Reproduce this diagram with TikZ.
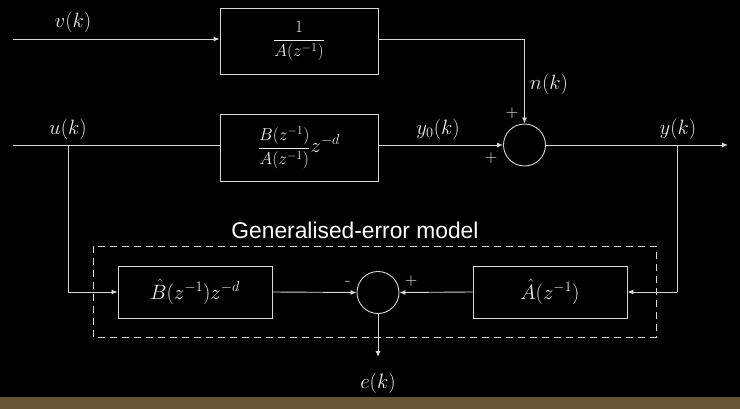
\documentclass[tikz,border=0pt]{standalone}
\usepackage{fontspec}
\usepackage{amsmath}
\setsansfont{Liberation Sans}
\usetikzlibrary{arrows.meta}
\definecolor{ln}{RGB}{215,215,215}
\definecolor{strip}{RGB}{104,84,54}
\newcommand{\midfrac}[2]{{\fontsize{17.28}{20}\selectfont$\dfrac{#1}{#2}$}}
\tikzset{
  blk/.style={draw=ln, line width=0.9pt, minimum width=158pt, inner sep=0pt},
  sumc/.style={draw=ln, line width=0.9pt, circle, minimum size=42pt, inner sep=0pt},
  wire/.style={draw=ln, line width=0.9pt},
  arr/.style={wire, -{Latex[length=6pt,width=5pt]}},
  lbl/.style={text=white!92!black, font=\fontsize{20.74}{25}\selectfont},
  sgn/.style={text=white!92!black, font=\fontsize{17.28}{20}\selectfont, inner sep=0pt},
}
\begin{document}
\begin{tikzpicture}[x=1pt,y=-1pt]
\fill[black] (0,0) rectangle (740,409);
\fill[strip] (0,397) rectangle (740,409);
\useasboundingbox (0,0) rectangle (740,409);
% top row
\coordinate (vin) at (13,39);
\node[blk, minimum height=66pt, lbl] (G1) at (299,41) {\midfrac{1}{A(z^{-1})}};
\node[blk, minimum height=67pt, lbl] (G2) at (299,147.5) {\midfrac{B(z^{-1})}{A(z^{-1})}$z^{-d}$};
\node[sumc] (S1) at (524.5,145) {};
\coordinate (uin) at (13,145);
\coordinate (yout) at (728,145);
\coordinate (ub) at (68,145);
\coordinate (yb) at (677,145);
\coordinate (nc) at (524.5,39);
\draw[arr] (vin) -- (vin -| G1.west);
\draw[wire] (uin) -- (uin -| G2.west);
\draw[wire] (G1.east |- vin) -- (nc);
\draw[arr] (nc) -- (S1.north);
\draw[arr] (G2.east |- S1) -- (S1.west);
\draw[arr] (S1.east) -- (yout);
\node[lbl] (vl) at (73,22) {$v(k)$};
\node[lbl] (ul) at (68,129) {$u(k)$};
\node[lbl] (y0l) at (438,129) {$y_0(k)$};
\node[lbl] (yl) at (678,129) {$y(k)$};
\node[lbl] (nl) at (549,84) {$n(k)$};
\node[sgn] (p1) at (512,113) {$+$};
\node[sgn] (p2) at (491,158) {$+$};
% generalised error model
\draw[ln, line width=0.9pt, dash pattern=on 7pt off 5pt] (93,246) rectangle (656,337);
\node[text=white, font=\sffamily\fontsize{22.8}{26}\selectfont] (gt) at (355,230) {Generalised-error model};
\node[blk, minimum width=154pt, minimum height=52pt, lbl] (Bh) at (195,292) {$\hat{B}(z^{-1})z^{-d}$};
\node[blk, minimum width=154pt, minimum height=52pt, lbl] (Ah) at (550,292) {$\hat{A}(z^{-1})$};
\node[sumc] (S2) at (378,292.5) {};
\coordinate (ubend) at (68,292);
\coordinate (ybend) at (677,292);
\coordinate (eout) at (378,357);
\draw[wire] (ub) -- (ubend);
\draw[arr] (ubend) -- (Bh.west);
\draw[wire] (yb) -- (ybend);
\draw[arr] (ybend) -- (Ah.east);
\draw[arr] (Bh.east) -- (S2.west);
\draw[arr] (Ah.west) -- (S2.east);
\draw[arr] (S2.south) -- (eout);
\node[lbl] (el) at (378,383) {$e(k)$};
\node[sgn] (m1) at (348,283) {-};
\node[sgn] (p3) at (411,281) {$+$};
\end{tikzpicture}
\end{document}
